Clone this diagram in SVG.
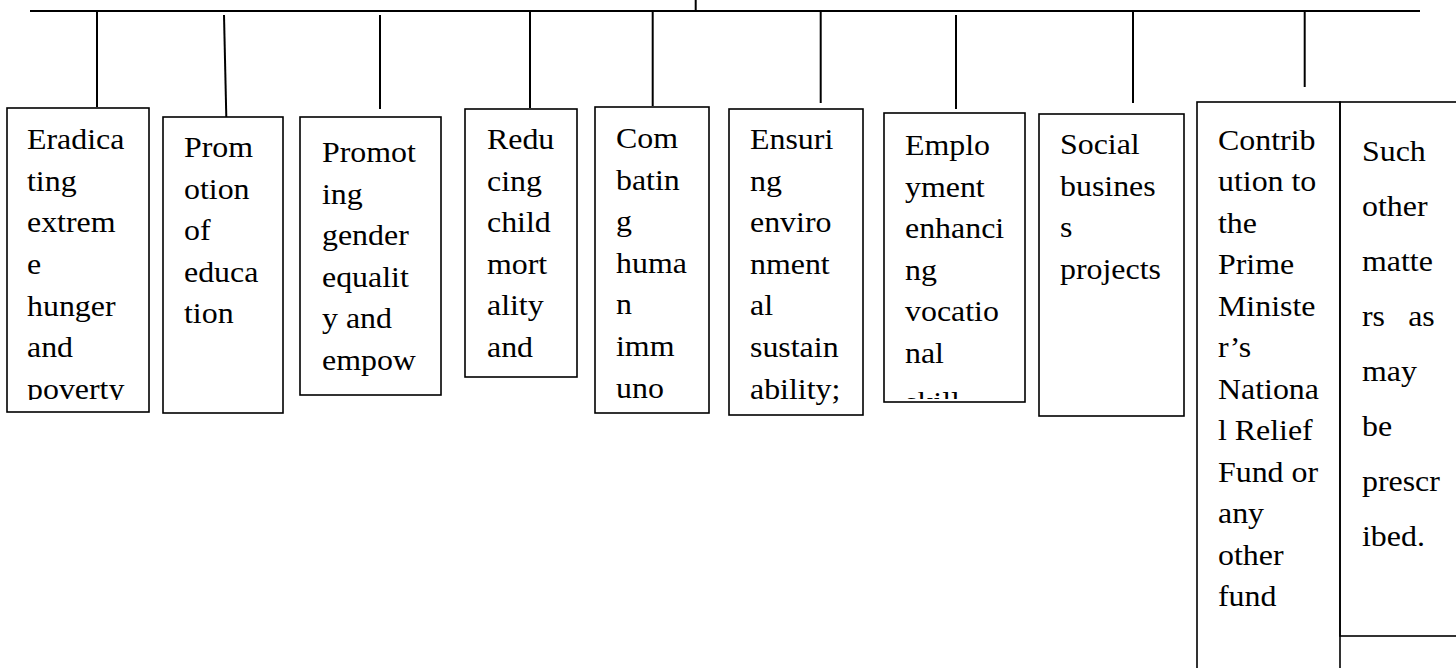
<svg xmlns="http://www.w3.org/2000/svg" width="1456" height="668" viewBox="0 0 1456 668">
<style>
.bx{fill:none;stroke:#000;stroke-width:1.6}
.ln{stroke:#000;stroke-width:2;fill:none}
.t{font-family:"Liberation Serif","Times New Roman",serif;font-size:29px;fill:#000}
</style>
<defs>
<clipPath id="c1" clipPathUnits="userSpaceOnUse"><rect x="8" y="109" width="140" height="291"/></clipPath>
<clipPath id="c5" clipPathUnits="userSpaceOnUse"><rect x="596" y="108" width="112" height="300"/></clipPath>
<clipPath id="c6" clipPathUnits="userSpaceOnUse"><rect x="730" y="110" width="132" height="296"/></clipPath>
<clipPath id="c7" clipPathUnits="userSpaceOnUse"><rect x="885" y="114" width="139" height="285"/></clipPath>
</defs>
<rect width="1456" height="668" fill="#fff"/>
<g id="connectors">
<line class="ln" x1="30" y1="11" x2="1420" y2="11"/>
<line class="ln" x1="695.7" y1="0" x2="695.7" y2="11"/>
<line class="ln" x1="97" y1="11" x2="97" y2="107"/>
<line class="ln" x1="224" y1="15" x2="226.3" y2="117"/>
<line class="ln" x1="380" y1="15" x2="380" y2="109"/>
<line class="ln" x1="530" y1="11" x2="530" y2="108"/>
<line class="ln" x1="652.7" y1="11" x2="652.7" y2="106"/>
<line class="ln" x1="820.7" y1="11" x2="820.7" y2="103"/>
<line class="ln" x1="956" y1="15" x2="956" y2="109"/>
<line class="ln" x1="1133" y1="11" x2="1133" y2="103"/>
<line class="ln" x1="1304.7" y1="11" x2="1304.7" y2="87"/>
</g>
<g id="node-1">
<rect class="bx" x="7" y="108" width="142" height="304"/>
<g clip-path="url(#c1)">
<text class="t" transform="translate(27 0) scale(1.1 1)"><tspan x="0" y="149">Eradica</tspan><tspan x="0" y="191">ting</tspan><tspan x="0" y="232">extrem</tspan><tspan x="0" y="274">e</tspan><tspan x="0" y="316">hunger</tspan><tspan x="0" y="357">and</tspan><tspan x="0" y="399">poverty</tspan></text>
</g>
</g>
<g id="node-2">
<rect class="bx" x="163" y="117" width="120" height="296"/>
<text class="t" transform="translate(184 0) scale(1.1 1)"><tspan x="0" y="157">Prom</tspan><tspan x="0" y="199">otion</tspan><tspan x="0" y="240">of</tspan><tspan x="0" y="282">educa</tspan><tspan x="0" y="323">tion</tspan></text>
</g>
<g id="node-3">
<rect class="bx" x="300" y="117" width="141" height="278"/>
<text class="t" transform="translate(322 0) scale(1.1 1)"><tspan x="0" y="162">Promot</tspan><tspan x="0" y="204">ing</tspan><tspan x="0" y="245">gender</tspan><tspan x="0" y="287">equalit</tspan><tspan x="0" y="328">y and</tspan><tspan x="0" y="370">empow</tspan></text>
</g>
<g id="node-4">
<rect class="bx" x="465" y="109" width="112" height="268"/>
<text class="t" transform="translate(487 0) scale(1.1 1)"><tspan x="0" y="149">Redu</tspan><tspan x="0" y="191">cing</tspan><tspan x="0" y="232">child</tspan><tspan x="0" y="274">mort</tspan><tspan x="0" y="315">ality</tspan><tspan x="0" y="357">and</tspan></text>
</g>
<g id="node-5">
<rect class="bx" x="595" y="107" width="114" height="306"/>
<g clip-path="url(#c5)">
<text class="t" transform="translate(616 0) scale(1.1 1)"><tspan x="0" y="148">Com</tspan><tspan x="0" y="190">batin</tspan><tspan x="0" y="231">g</tspan><tspan x="0" y="273">huma</tspan><tspan x="0" y="314">n</tspan><tspan x="0" y="356">imm</tspan><tspan x="0" y="398">uno</tspan></text>
</g>
</g>
<g id="node-6">
<rect class="bx" x="729" y="109" width="134" height="306"/>
<g clip-path="url(#c6)">
<text class="t" transform="translate(750 0) scale(1.1 1)"><tspan x="0" y="149">Ensuri</tspan><tspan x="0" y="191">ng</tspan><tspan x="0" y="232">enviro</tspan><tspan x="0" y="274">nment</tspan><tspan x="0" y="315">al</tspan><tspan x="0" y="357">sustain</tspan><tspan x="0" y="399">ability;</tspan></text>
</g>
</g>
<g id="node-7">
<rect class="bx" x="884" y="113" width="141" height="289"/>
<g clip-path="url(#c7)">
<text class="t" transform="translate(905 0) scale(1.1 1)"><tspan x="0" y="155">Emplo</tspan><tspan x="0" y="197">yment</tspan><tspan x="0" y="238">enhanci</tspan><tspan x="0" y="280">ng</tspan><tspan x="0" y="321">vocatio</tspan><tspan x="0" y="363">nal</tspan><tspan x="0" y="412">skill</tspan></text>
</g>
</g>
<g id="node-8">
<rect class="bx" x="1039" y="114" width="145" height="302"/>
<text class="t" transform="translate(1060 0) scale(1.1 1)"><tspan x="0" y="154">Social</tspan><tspan x="0" y="196">busines</tspan><tspan x="0" y="237">s</tspan><tspan x="0" y="279">projects</tspan></text>
</g>
<g id="node-9">
<rect class="bx" x="1197" y="102" width="143" height="590"/>
<text class="t" transform="translate(1218 0) scale(1.1 1)"><tspan x="0" y="150">Contrib</tspan><tspan x="0" y="191.5">ution to</tspan><tspan x="0" y="233">the</tspan><tspan x="0" y="274.5">Prime</tspan><tspan x="0" y="316">Ministe</tspan><tspan x="0" y="357.5">r’s</tspan><tspan x="0" y="399">Nationa</tspan><tspan x="0" y="440.5">l Relief</tspan><tspan x="0" y="482">Fund or</tspan><tspan x="0" y="523.5">any</tspan><tspan x="0" y="565">other</tspan><tspan x="0" y="606.5">fund</tspan></text>
</g>
<g id="node-10">
<rect class="bx" x="1340" y="102" width="140" height="534"/>
<text class="t" transform="translate(1362 0) scale(1.1 1)"><tspan x="0" y="161.5">Such</tspan><tspan x="0" y="216.5">other</tspan><tspan x="0" y="271.5">matte</tspan><tspan x="0" y="326.5">rs</tspan><tspan x="42" y="326.5">as</tspan><tspan x="0" y="381.5">may</tspan><tspan x="0" y="436.5">be</tspan><tspan x="0" y="491.5">prescr</tspan><tspan x="0" y="546.5">ibed.</tspan></text>
</g>
</svg>
